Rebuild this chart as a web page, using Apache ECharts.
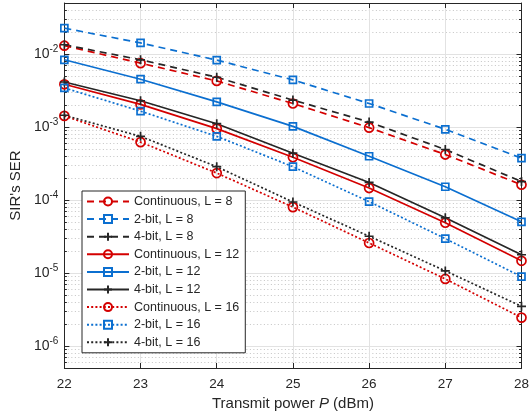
<!DOCTYPE html>
<html><head><meta charset="utf-8">
<script src="https://cdn.jsdelivr.net/npm/echarts@6/dist/echarts.min.js"></script>
<style>html,body{margin:0;padding:0;background:#fff}#c{width:532px;height:417px}</style>
</head><body><div id="c"></div>
<script>
const xValues = [22, 23, 24, 25, 26, 27, 28];
const contL8  = [0.0130, 0.0075, 0.00428, 0.0021, 0.00098, 0.00042, 0.000162];
const bit2L8  = [0.0226, 0.0142, 0.00826, 0.00442, 0.0021, 0.00093, 0.000374];
const bit4L8  = [0.0134, 0.00834, 0.00481, 0.00234, 0.00117, 0.000492, 0.000179];
const contL12 = [0.00385, 0.00204, 0.00095, 0.000385, 0.000146, 4.88e-5, 1.47e-5];
const bit2L12 = [0.00834, 0.00452, 0.00221, 0.00102, 0.000398, 0.000152, 5.03e-5];
const bit4L12 = [0.00414, 0.00229, 0.00111, 0.000438, 0.000174, 5.7e-5, 1.78e-5];
const contL16 = [0.00142, 0.000621, 0.000234, 8.0e-5, 2.58e-5, 8.3e-6, 2.45e-6];
const bit2L16 = [0.00343, 0.00165, 0.000745, 0.000286, 9.5e-5, 2.96e-5, 8.9e-6];
const bit4L16 = [0.00145, 0.000745, 0.000286, 9.4e-5, 3.19e-5, 1.07e-5, 3.5e-6];
const seriesNames = ['Continuous, L = 8', '2-bit, L = 8', '4-bit, L = 8',
  'Continuous, L = 12', '2-bit, L = 12', '4-bit, L = 12',
  'Continuous, L = 16', '2-bit, L = 16', '4-bit, L = 16'];
const yMin = 5e-7, yMax = 5e-2;
const majorTicks = [1e-6, 1e-5, 1e-4, 1e-3, 1e-2];
const minorTicks = [];
for (let e = -7; e <= -2; e++) for (let m = 2; m <= 9; m++) {
  const v = +(m * Math.pow(10, e)).toPrecision(3);
  if (v >= yMin && v <= yMax) minorTicks.push(v);
}

const RED = '#d40000', BLUE = '#0b6fd0', BLACK = '#262626';
const FONT = '"Liberation Sans", Arial, Helvetica, sans-serif';
const DASH = [7, 5], DOT = [2, 2.2];
const PLUS = 'path://M0,5L10,5M5,0L5,10';

function mk(name, vals, color, ltype, symbol, size) {
  return {
    name: name, type: 'line', xAxisIndex: 0, yAxisIndex: 0,
    data: xValues.map((x, i) => [x, vals[i]]),
    symbol: symbol, symbolSize: size, showSymbol: true,
    lineStyle: {color: color, width: 1.7, type: ltype, cap: 'butt'},
    itemStyle: {color: 'rgba(255,255,255,0)', borderColor: color, borderWidth: 1.7},
    emphasis: {disabled: true},
    animation: false
  };
}

const series = [
  mk(seriesNames[0], contL8, RED, DASH, 'circle', 9),
  mk(seriesNames[1], bit2L8, BLUE, DASH, 'rect', 7),
  mk(seriesNames[2], bit4L8, BLACK, DASH, PLUS, 9),
  mk(seriesNames[3], contL12, RED, 'solid', 'circle', 9),
  mk(seriesNames[4], bit2L12, BLUE, 'solid', 'rect', 7),
  mk(seriesNames[5], bit4L12, BLACK, 'solid', PLUS, 9),
  mk(seriesNames[6], contL16, RED, DOT, 'circle', 9),
  mk(seriesNames[7], bit2L16, BLUE, DOT, 'rect', 7),
  mk(seriesNames[8], bit4L16, BLACK, DOT, PLUS, 9)
];

function supLabel(v) {
  const e = Math.round(Math.log10(v));
  return '{b|10}{s|' + e + '}';
}

const axisLine = {show: true, onZero: false, lineStyle: {color: BLACK, width: 1}};
const yBase = {type: 'log', logBase: 10, min: yMin, max: yMax};

const option = {
  backgroundColor: '#fff',
  animation: false,
  grid: {left: 64, right: 7, top: 3, bottom: 49, containLabel: false},
  xAxis: [
    {type: 'value', min: 22, max: 28, interval: 1, position: 'bottom',
     axisLine: axisLine,
     axisTick: {inside: true, length: 5, lineStyle: {color: BLACK}},
     axisLabel: {color: BLACK, fontSize: 13.5, margin: 9, fontFamily: FONT},
     splitLine: {show: true, lineStyle: {color: '#e2e2e2', width: 1}},
     name: '{n|Transmit power }{i|P}{n| (dBm)}', nameLocation: 'middle', nameGap: 27,
     nameTextStyle: {fontSize: 15, color: BLACK, fontFamily: FONT,
       rich: {n: {fontSize: 15, color: BLACK, fontFamily: FONT},
              i: {fontSize: 15, color: BLACK, fontFamily: FONT, fontStyle: 'italic'}}}},
    {type: 'value', min: 22, max: 28, interval: 1, position: 'top',
     axisLine: axisLine,
     axisTick: {inside: true, length: 5, lineStyle: {color: BLACK}},
     axisLabel: {show: false}, splitLine: {show: false}}
  ],
  yAxis: [
    Object.assign({}, yBase, {position: 'left',
      axisLine: axisLine,
      axisTick: {inside: true, length: 5, customValues: majorTicks, lineStyle: {color: BLACK}},
      axisLabel: {customValues: majorTicks, margin: 6, formatter: supLabel,
        rich: {b: {fontSize: 14, color: BLACK, fontFamily: FONT},
               s: {fontSize: 10, color: BLACK, fontFamily: FONT, padding: [0, 0, 9, 0]}}},
      splitLine: {show: true, lineStyle: {color: '#e2e2e2', width: 1}},
      name: "SIR's SER", nameLocation: 'middle', nameGap: 35, nameRotate: 90,
      nameTextStyle: {fontSize: 15, color: BLACK, fontFamily: FONT}}),
    Object.assign({}, yBase, {position: 'left',
      axisLine: {show: false},
      axisTick: {inside: true, length: 2.5, customValues: minorTicks, lineStyle: {color: BLACK}},
      axisLabel: {show: false},
      splitLine: {show: true, lineStyle: {color: '#c4c4c4', width: 1, type: [1, 2.5]}}}),
    Object.assign({}, yBase, {position: 'right',
      axisLine: axisLine,
      axisTick: {inside: true, length: 5, customValues: majorTicks, lineStyle: {color: BLACK}},
      axisLabel: {show: false}, splitLine: {show: false}}),
    Object.assign({}, yBase, {position: 'right',
      axisLine: {show: false},
      axisTick: {inside: true, length: 2.5, customValues: minorTicks, lineStyle: {color: BLACK}},
      axisLabel: {show: false}, splitLine: {show: false}})
  ],
  legend: {
    orient: 'vertical', left: 82, top: 191,
    itemWidth: 42, itemHeight: 10, itemGap: 4.6,
    padding: [4, 6, 4, 4],
    borderColor: BLACK, borderWidth: 1, backgroundColor: '#fff',
    textStyle: {fontSize: 12.5, color: BLACK, fontFamily: FONT},
    data: seriesNames
  },
  series: series
};

const chart = echarts.init(document.getElementById('c'), null, {renderer: 'canvas'});
chart.setOption(option);
</script></body></html>
